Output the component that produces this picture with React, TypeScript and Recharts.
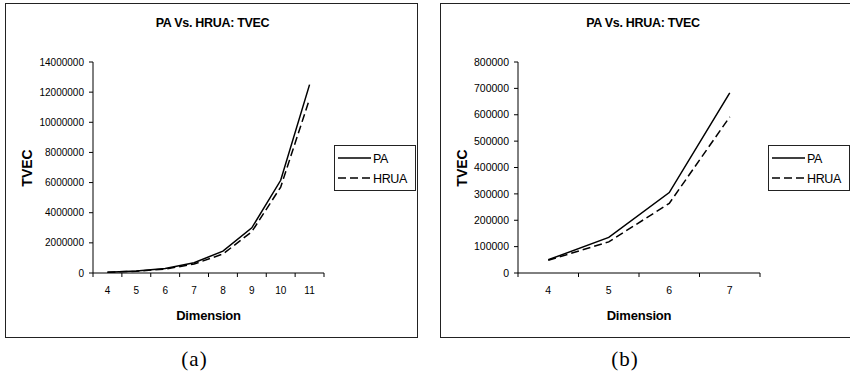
import React from "react";
import { Legend, Line, LineChart, XAxis, YAxis } from "recharts";

const seriesNames = ["PA", "HRUA"];

const dimsA = [4, 5, 6, 7, 8, 9, 10, 11];
const paA = [50000, 132000, 302000, 683000, 1450000, 3000000, 6150000, 12500000];
const hruaA = [48000, 118000, 263000, 592000, 1260000, 2740000, 5700000, 11550000];
const ticksA = [0, 2000000, 4000000, 6000000, 8000000, 10000000, 12000000, 14000000];

const dimsB = [4, 5, 6, 7];
const paB = [50000, 135000, 305000, 683000];
const hruaB = [48000, 118000, 264000, 592000];
const ticksB = [0, 100000, 200000, 300000, 400000, 500000, 600000, 700000, 800000];

const FONT = "'Liberation Sans', Arial, sans-serif";
const TICK_SIZE = 4;
const TICK_MARGIN = 10;
const DASH = "8 4";

function CatTick(props: any) {
  const { x, y, payload, index, count, fontSize } = props;
  const off = payload?.offset ?? 0;
  const axisY = y - TICK_SIZE - TICK_MARGIN;
  return (
    <g>
      <line x1={x - off} x2={x - off} y1={axisY} y2={axisY + TICK_SIZE} stroke="#000" />
      {index === count - 1 && (
        <line x1={x + off} x2={x + off} y1={axisY} y2={axisY + TICK_SIZE} stroke="#000" />
      )}
      <text x={x} y={y} dy="0.71em" textAnchor="middle" fontSize={fontSize} fill="#000" fontFamily={FONT}>
        {payload.value}
      </text>
    </g>
  );
}

function LegendBox({ payload }: any) {
  const items = [...(payload || [])].sort(
    (a: any, b: any) => seriesNames.indexOf(a.value) - seriesNames.indexOf(b.value)
  );
  return (
    <svg width={82} height={46} style={{ display: "block" }}>
      <rect x={0.5} y={0.5} width={81} height={45} fill="#fff" stroke="#222" />
      {items.map((p: any, i: number) => {
        const dash = p.payload?.strokeDasharray ?? (p.value === "HRUA" ? DASH : undefined);
        const cy = 13 + i * 20;
        return (
          <g key={p.value}>
            <line x1={4} x2={37} y1={cy} y2={cy} stroke="#000" strokeWidth={1.5} strokeDasharray={dash} />
            <text x={39} y={cy} dy="0.36em" fontSize={12.5} fontFamily={FONT} fill="#000" letterSpacing={-0.4}>
              {p.value}
            </text>
          </g>
        );
      })}
    </svg>
  );
}

type PanelProps = {
  left: number;
  dims: number[];
  pa: number[];
  hrua: number[];
  ticks: number[];
  right: number;
  tickFont: number;
  caption: string;
  boxLeft: number;
  boxWidth: number;
  legendLeft: number;
  yLabelX: number;
};

function Panel(p: PanelProps) {
  const data = p.dims.map((d, i) => ({ dim: d, PA: p.pa[i], HRUA: p.hrua[i] }));
  const plotLeft = 93;
  const plotRight = 425 - p.right;
  const cx = p.left + (plotLeft + plotRight) / 2;
  const text: React.CSSProperties = {
    position: "absolute",
    transform: "translate(-50%, -50%)",
    whiteSpace: "nowrap",
    fontFamily: FONT,
    fontWeight: 700,
    color: "#000",
    lineHeight: 1,
  };
  return (
    <>
      <div
        style={{
          position: "absolute",
          left: p.boxLeft,
          top: 3,
          width: p.boxWidth,
          height: 335,
          border: "1.5px solid #222",
          boxSizing: "border-box",
        }}
      />
      <div style={{ position: "absolute", left: p.left, top: 0 }}>
        <LineChart
          width={425}
          height={340}
          data={data}
          margin={{ top: 62, right: p.right, bottom: 37, left: 33 }}
        >
          <XAxis
            dataKey="dim"
            scale="band"
            interval={0}
            height={30}
            tickSize={TICK_SIZE}
            tickMargin={TICK_MARGIN}
            tickLine={false}
            axisLine={{ stroke: "#000" }}
            tick={<CatTick count={data.length} fontSize={p.tickFont} />}
          />
          <YAxis
            width={60}
            domain={[0, p.ticks[p.ticks.length - 1]]}
            ticks={p.ticks}
            interval={0}
            tickSize={TICK_SIZE}
            tickMargin={5}
            axisLine={{ stroke: "#000" }}
            tickLine={{ stroke: "#000" }}
            tick={{ fontSize: p.tickFont, fill: "#000", fontFamily: FONT }}
          />
          <Legend
            layout="horizontal"
            verticalAlign="middle"
            align="center"
            content={<LegendBox />}
            wrapperStyle={{ position: "absolute", left: p.legendLeft, top: 145, width: 82, height: 46 }}
          />
          <Line
            dataKey="PA"
            type="linear"
            stroke="#000"
            strokeWidth={1.5}
            dot={false}
            isAnimationActive={false}
          />
          <Line
            dataKey="HRUA"
            type="linear"
            stroke="#000"
            strokeWidth={1.5}
            strokeDasharray={DASH}
            dot={false}
            isAnimationActive={false}
          />
        </LineChart>
      </div>
      <div style={{ ...text, left: cx + 4, top: 23, fontSize: 12.5, letterSpacing: -0.3 }}>PA Vs. HRUA: TVEC</div>
      <div style={{ ...text, left: cx, top: 315, fontSize: 13, letterSpacing: -0.2 }}>Dimension</div>
      <div
        style={{
          ...text,
          left: p.left + p.yLabelX,
          top: 168,
          fontSize: 14,
          transform: "translate(-50%, -50%) rotate(-90deg)",
        }}
      >
        TVEC
      </div>
      <div
        style={{
          ...text,
          fontFamily: "'Liberation Serif', 'Times New Roman', serif",
          fontWeight: 400,
          fontSize: 21,
          letterSpacing: 1,
          left: cx - 14,
          top: 359,
        }}
      >
        {p.caption}
      </div>
    </>
  );
}

export default function App() {
  return (
    <div style={{ position: "absolute", left: 0, top: 0, width: 850, height: 376, background: "#fff", overflow: "hidden" }}>
      <Panel
        left={0}
        dims={dimsA}
        pa={paA}
        hrua={hruaA}
        ticks={ticksA}
        right={101}
        tickFont={10}
        caption="(a)"
        boxLeft={5}
        boxWidth={413}
        legendLeft={334}
        yLabelX={27}
      />
      <Panel
        left={425}
        dims={dimsB}
        pa={paB}
        hrua={hruaB}
        ticks={ticksB}
        right={90}
        tickFont={10.5}
        caption="(b)"
        boxLeft={440}
        boxWidth={412}
        legendLeft={343}
        yLabelX={37}
      />
    </div>
  );
}
